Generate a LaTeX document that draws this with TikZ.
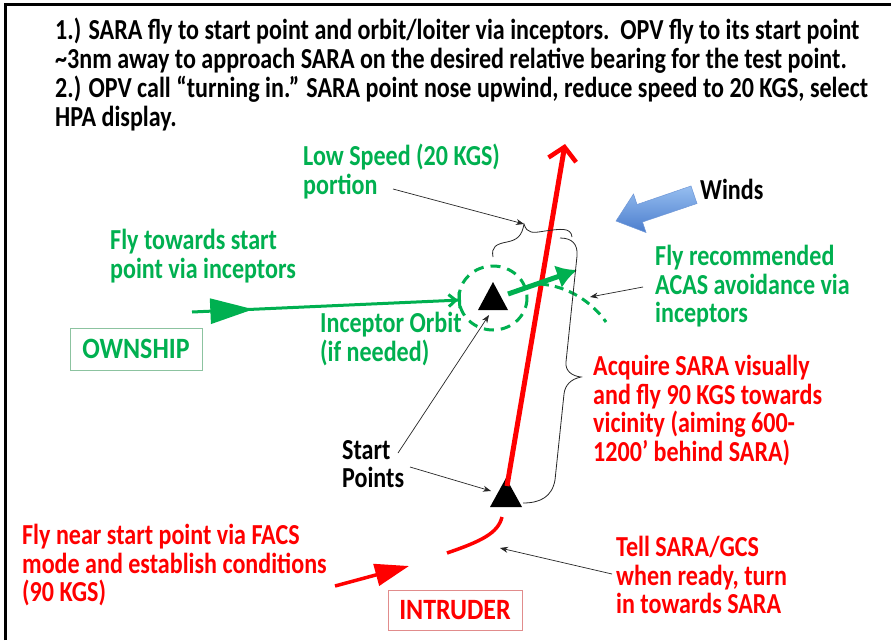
\documentclass[tikz,border=0pt]{standalone}
\usepackage{fontspec}
\setmainfont{Carlito}
\newfontfamily\tallfont{Carlito}[FakeStretch=0.83]
\newfontfamily\tagfont{Carlito}[FakeStretch=0.88]
\usetikzlibrary{arrows.meta,decorations.markings}
\definecolor{ogreen}{RGB}{0,176,80}
\definecolor{ired}{RGB}{255,0,0}
\definecolor{windlight}{RGB}{150,190,240}
\definecolor{winddark}{RGB}{75,125,205}
\definecolor{gbox}{RGB}{140,195,160}
\definecolor{rbox}{RGB}{225,140,140}
\begin{document}
\begin{tikzpicture}[x=1pt,y=-1pt,
  lbl/.style={anchor=north west, inner sep=0pt, align=left,
              font=\tallfont\fontsize{29}{28.5}\selectfont\bfseries},
  greentxt/.style={lbl, text=ogreen},
  redtxt/.style={lbl, text=ired},
  blacktxt/.style={lbl, text=black},
  tagbox/.style={draw, line width=0.8pt, inner xsep=8pt, inner ysep=6pt,
                 font=\tagfont\fontsize{29.5}{30}\selectfont\bfseries},
  pointer/.style={draw=black!85, line width=0.7pt, -{Stealth[length=8pt,width=6pt]}},
  bracket/.style={draw=black!85, line width=0.8pt},
  sara/.style={fill=black},
]
\useasboundingbox (0,0) rectangle (891,640);
\fill[white] (0,0) rectangle (891,640);
% frame
\draw[line width=3pt] (5,640) -- (5,4) -- (891,4);

% ---------- texts ----------
\node[blacktxt, font=\tallfont\fontsize{29}{29}\selectfont\bfseries] (steps) at (55,18) {1.) SARA fly to start point and orbit/loiter via inceptors.\ \ OPV fly to its start point\\
\textasciitilde3nm away to approach SARA on the desired relative bearing for the test point.\\
2.) OPV call “turning in.” SARA point nose upwind, reduce speed to 20 KGS, select\\
HPA display.};
\node[greentxt] (lowspeed) at (303,144) {Low Speed (20 KGS)\\portion};
\node[blacktxt] (winds) at (700,179) {Winds};
\node[greentxt] (flytow) at (110,229) {Fly towards start\\point via inceptors};
\node[greentxt] (acas) at (655,245) {Fly recommended\\ACAS avoidance via\\inceptors};
\node[greentxt] (orbit) at (320,312) {Inceptor Orbit\\(if needed)};
\node[tagbox, draw=gbox, text=ogreen, minimum width=132pt, minimum height=42pt] (own) at (136,349) {OWNSHIP};
\node[redtxt] (acquire) at (593,355) {Acquire SARA visually\\and fly 90 KGS towards\\vicinity (aiming 600-\\1200’ behind SARA)};
\node[blacktxt] (startpts) at (342,440) {Start\\Points};
\node[redtxt] (flynear) at (22,524) {Fly near start point via FACS\\mode and establish conditions\\(90 KGS)};
\node[redtxt] (tell) at (616,536) {Tell SARA/GCS\\when ready, turn\\in towards SARA};
\node[tagbox, draw=rbox, text=ired, minimum width=134pt, minimum height=40pt] (intr) at (455,610) {INTRUDER};

% ---------- start points ----------
\fill[sara] (493,282) -- (508,310) -- (478,310) -- cycle;
\fill[sara] (506,478) -- (522,507) -- (490,507) -- cycle;
\coordinate (upper) at (493,298);
\coordinate (upperfoot) at (489,315);
\coordinate (lowerleft) at (491,491);
\coordinate (lowertop) at (507,486);

% ---------- winds ----------
\shade[top color=windlight, bottom color=winddark, draw=winddark!80, line width=0.5pt]
  (691,186) -- (637,204.5) -- (633.5,194) -- (616,221) -- (646,232.5) -- (642.5,222) -- (697,203.5) -- cycle;

% ---------- intruder path ----------
\coordinate (tip) at (565,144);
\draw[ired, line width=5pt, -{Straight Barb[length=13pt,width=28pt,line width=4.5pt]}] (lowertop) -- (tip);
\coordinate (intrstart) at (335,586);
\coordinate (intrturn) at (409,566);
\draw[ired, line width=3.5pt, -{Triangle[length=34pt,width=22pt]}] (intrstart) -- (intrturn);
\coordinate (turnA) at (447,553);
\coordinate (turnB) at (502,517);
\draw[ired, line width=3.5pt] (turnA) .. controls (482,541) and (498,533) .. (turnB);

% ---------- ownship path ----------
\coordinate (ownstart) at (192,312);
\coordinate (orbitedge) at (461,300);
\draw[ogreen, line width=3pt, -{Straight Barb[length=7pt,width=12pt] Bar[width=16pt]},
  postaction={decorate, decoration={markings,
    mark=at position 0.228 with {\arrow{Triangle[length=43pt,width=25pt]}}}}]
  (ownstart) -- (orbitedge);
\draw[ogreen, line width=3pt, dash pattern=on 10pt off 7pt] (upper) ellipse [x radius=34, y radius=32];
\coordinate (acasfrom) at (508,294);
\coordinate (acasto) at (577,270);
\draw[ogreen, line width=5pt, -{Latex[length=20pt,width=24pt]}] (acasfrom) -- (acasto);
\coordinate (arcA) at (540,284);
\coordinate (arcB) at (606,322);
\coordinate (arcmid) at (590,297);
\draw[ogreen, line width=3pt, dash pattern=on 9pt off 6pt] (arcA) .. controls (568,286) and (592,302) .. (arcB);

% ---------- brackets ----------
\coordinate (topbrace) at (524,224);
\draw[bracket] (493,257) .. controls (491,247) and (496,244) .. (507,242)
  .. controls (517,240) and (522,236) .. (topbrace)
  .. controls (527,234) and (533,233) .. (545,231)
  .. controls (560,229) and (571,227) .. (572,237);
\coordinate (sidebrace) at (581,377);
\draw[bracket] (560,238) .. controls (572,238) and (578,244) .. (577,256)
  -- (566,362) .. controls (565,371) and (572,376) .. (sidebrace)
  .. controls (571,379) and (565,385) .. (564,394)
  -- (555,480) .. controls (552,497) and (540,503) .. (523,503);

% ---------- pointers ----------
\coordinate (lowspeedfoot) at (393,189);
\draw[pointer] (lowspeedfoot) -- (topbrace);
\coordinate (acasfoot) at (643,287);
\draw[pointer] (acasfoot) -- (arcmid);
\coordinate (startA) at (398,453);
\coordinate (startB) at (410,467);
\draw[pointer] (startA) -- (upperfoot);
\draw[pointer] (startB) -- (lowerleft);
\coordinate (tellfoot) at (612,574);
\coordinate (turnpt) at (500,548);
\draw[pointer] (tellfoot) -- (turnpt);
\end{tikzpicture}
\end{document}
